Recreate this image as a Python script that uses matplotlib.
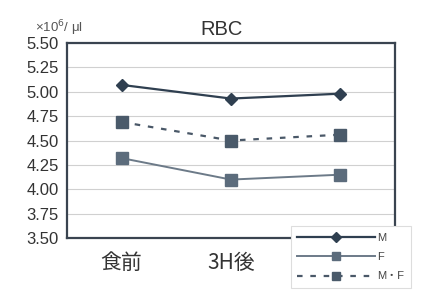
import matplotlib
matplotlib.use("Agg")
import matplotlib.pyplot as plt

categories = ["食前", "3H後", "6H後"]
m_vals = [5.07, 4.93, 4.98]
f_vals = [4.32, 4.10, 4.15]
mf_vals = [4.69, 4.50, 4.56]
series_labels = ["M", "F", "M・F"]
yticks = [3.50, 3.75, 4.00, 4.25, 4.50, 4.75, 5.00, 5.25, 5.50]

plt.rcParams['font.family'] = ['Liberation Sans', 'Noto Sans CJK JP', 'DejaVu Sans']

fig = plt.figure(figsize=(4.26, 2.94), dpi=100)
ax = fig.add_axes([0.157, 0.190, 0.770, 0.664])

x = list(range(len(categories)))
ax.plot(x, m_vals, color='#2f3f50', lw=1.6, marker='D', ms=6.5, label=series_labels[0], zorder=3)
ax.plot(x, f_vals, color='#6c7a88', lw=1.4, marker='s', ms=8, mfc='#5c6c7c', mec='#5c6c7c', label=series_labels[1], zorder=3)
ax.plot(x, mf_vals, color='#4a5868', lw=1.6, ls=(0, (2.5, 3.5)), marker='s', ms=8, mfc='#4a5a6a', mec='#4a5a6a', label=series_labels[2], zorder=3)

ax.set_xlim(-0.5, 2.5)
ax.set_ylim(3.50, 5.50)
ax.set_yticks(yticks)
ax.set_yticklabels([f"{v:.2f}" for v in yticks], fontsize=12, color='#333333')
ax.set_xticks(x)
ax.set_xticklabels(categories, fontsize=15, family=['Noto Sans CJK JP'], color='#333333')
ax.tick_params(length=0, pad=6)
ax.tick_params(axis='x', pad=10)
ax.grid(axis='y', color='#d0d0d0', lw=0.8)
for s in ax.spines.values():
    s.set_color('#3a4450')
    s.set_linewidth(1.6)

ax.set_title("RBC", fontsize=14.5, color='#333333', x=0.473, pad=6)
fig.text(0.082, 0.89, "×10$^6$/ μl", fontsize=9.5, color='#555555')

leg = fig.legend(loc='lower right', bbox_to_anchor=(0.965, 0.02), fontsize=8,
                 handlelength=7, frameon=True, fancybox=False, borderpad=0.6,
                 labelspacing=0.85, handletextpad=0.2, markerscale=0.75,
                 framealpha=1.0, borderaxespad=0)
leg.get_frame().set_edgecolor('#dddddd')
leg.get_frame().set_linewidth(0.8)
leg.set_zorder(10)
for t in leg.get_texts():
    t.set_color('#444444')

fig.savefig("out.png", dpi=100)
